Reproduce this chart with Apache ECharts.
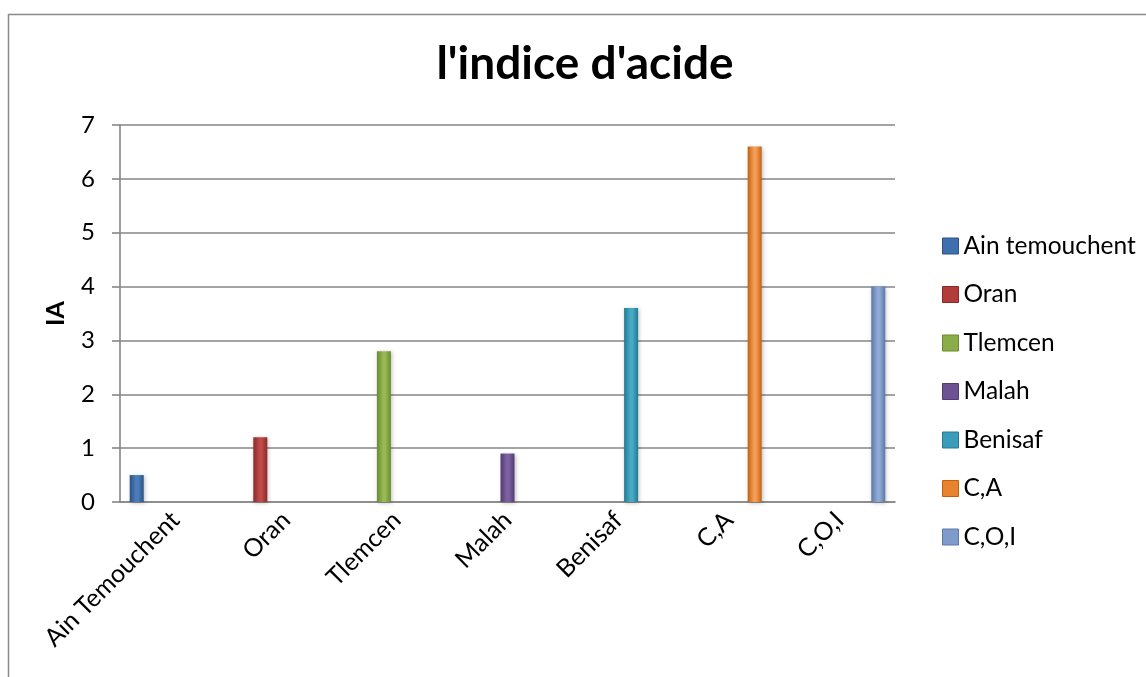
<!DOCTYPE html>
<html>
<head>
<meta charset="utf-8">
<script src="https://cdn.jsdelivr.net/npm/echarts@6/dist/echarts.min.js"></script>
<style>
html,body{margin:0;padding:0;background:#fff;}
#c{width:1146px;height:677px;}
</style>
</head>
<body>
<div id="c"></div>
<script>
const titleText = "l'indice d'acide";
const yAxisName = "IA";
const categories = ["Ain Temouchent", "Oran", "Tlemcen", "Malah", "Benisaf", "C,A", "C,O,I"];
const seriesNames = ["Ain temouchent", "Oran", "Tlemcen", "Malah", "Benisaf", "C,A", "C,O,I"];
const values = [0.5, 1.2, 2.8, 0.9, 3.6, 6.6, 4.0];
const yTicks = [0, 1, 2, 3, 4, 5, 6, 7];

const baseColors = ["#4A7EBB", "#BE4B48", "#98B954", "#7D60A0", "#46AAC5", "#F59D56", "#8EA9D6"];
const darkColors = ["#2C5283", "#8A2A28", "#6A8A30", "#523B73", "#237A91", "#C2620F", "#5E78A6"];
const legendColors = ["#3F70AE", "#B23C3A", "#8AAD48", "#6D5192", "#3A9CB8", "#E8842F", "#7F9BCB"];

const FONT = "Lato";

function grad(i) {
  return new echarts.graphic.LinearGradient(0, 0, 1, 0, [
    {offset: 0, color: darkColors[i]},
    {offset: 0.45, color: baseColors[i]},
    {offset: 0.6, color: baseColors[i]},
    {offset: 1, color: darkColors[i]}
  ]);
}

const chart = echarts.init(document.getElementById('c'), null, {renderer: 'canvas'});

const series = seriesNames.map((name, i) => ({
  name: name,
  type: 'bar',
  barWidth: 14,
  barGap: '-8%',
  barCategoryGap: '19%',
  data: categories.map((c, j) => (j === i ? values[i] : null)),
  itemStyle: {
    color: grad(i),
    shadowColor: 'rgba(0,0,0,0.25)',
    shadowBlur: 4,
    shadowOffsetX: 1,
    shadowOffsetY: 1
  }
}));

chart.setOption({
  animation: false,
  backgroundColor: '#ffffff',
  graphic: [{
    type: 'rect',
    shape: {x: 8.5, y: 14.5, width: 1300, height: 800},
    style: {fill: 'none', stroke: '#8a8a8a', lineWidth: 1.5},
    silent: true,
    z: -1
  }],
  title: {
    text: titleText,
    left: 580,
    top: 36,
    textAlign: 'center',
    textStyle: {fontFamily: FONT, fontWeight: 'bold', fontSize: 46, color: '#000'}
  },
  legend: {
    orient: 'vertical',
    left: 937,
    top: 228,
    itemWidth: 16,
    itemHeight: 16,
    itemGap: 22.5,
    icon: 'rect',
    textStyle: {fontFamily: FONT, fontSize: 24.5, color: '#000', lineHeight: 26},
    data: seriesNames.map((n, i) => ({
      name: n,
      itemStyle: {color: legendColors[i], borderColor: darkColors[i], borderWidth: 1}
    }))
  },
  grid: {left: 120, right: 251, top: 125, bottom: 175, containLabel: false},
  xAxis: {
    type: 'category',
    data: categories,
    boundaryGap: true,
    axisLine: {show: true, lineStyle: {color: '#868686', width: 1.6}},
    axisTick: {show: false},
    axisLabel: {
      rotate: 45,
      margin: 14,
      interval: 0,
      fontFamily: FONT,
      fontSize: 25,
      color: '#000'
    }
  },
  yAxis: {
    type: 'value',
    min: 0,
    max: 7,
    interval: 1,
    name: yAxisName,
    nameLocation: 'middle',
    nameGap: 52,
    nameRotate: 90,
    nameTextStyle: {fontFamily: FONT, fontWeight: 'bold', fontSize: 25, color: '#000'},
    axisLine: {show: true, lineStyle: {color: '#868686', width: 1.6}},
    axisTick: {show: true, inside: false, length: 8, lineStyle: {color: '#868686', width: 1.6}},
    axisLabel: {
      margin: 25,
      fontFamily: FONT,
      fontSize: 24,
      color: '#000',
      formatter: v => (yTicks.indexOf(v) >= 0 ? String(v) : '')
    },
    splitLine: {show: true, lineStyle: {color: '#868686', width: 1.6}}
  },
  series: series
});
</script>
</body>
</html>
